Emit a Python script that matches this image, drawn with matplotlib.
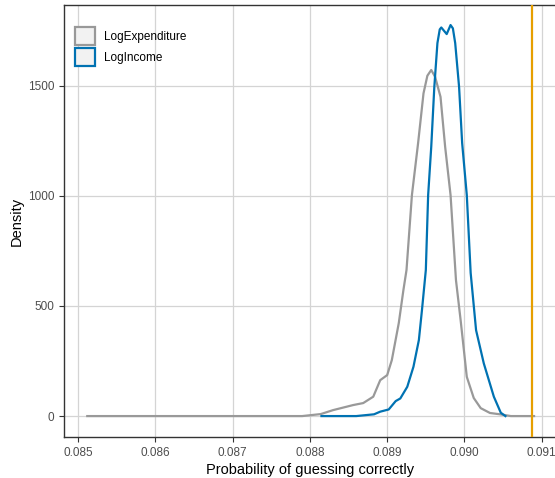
import matplotlib
matplotlib.use("Agg")
import matplotlib.pyplot as plt
from matplotlib.patches import Patch

plt.rcParams['font.family'] = ['Liberation Sans', 'DejaVu Sans']

# LogExpenditure density (grey)
exp_x = [0.08512, 0.0870, 0.0879, 0.08814, 0.08830, 0.08856, 0.08869, 0.08882, 0.08891,
         0.08900, 0.08906, 0.08915, 0.08921, 0.08925, 0.08932, 0.08940, 0.08947, 0.08952,
         0.08957, 0.08962, 0.08969, 0.08975, 0.08982, 0.08989, 0.08995, 0.09003, 0.09012,
         0.09021, 0.09033, 0.09046, 0.0906, 0.0909]
exp_d = [0, 0, 0, 9, 27, 50, 59, 88, 163,
         186, 254, 422, 572, 663, 1003, 1239, 1465, 1545,
         1571, 1540, 1449, 1222, 1003, 617, 436, 178, 82,
         36, 14, 8, 0, 0]

# LogIncome density (blue)
inc_x = [0.08815, 0.08860, 0.08883, 0.08891, 0.08902, 0.08911, 0.08917, 0.08926, 0.08934,
         0.08941, 0.08945, 0.08950, 0.08953, 0.08957, 0.08961, 0.08965, 0.08968, 0.08970,
         0.08977, 0.08982, 0.08985, 0.08988, 0.08993, 0.08997, 0.09003, 0.09008, 0.09015,
         0.09025, 0.09038, 0.09047, 0.09053]
inc_d = [0, 0, 8, 20, 30, 68, 80, 133, 224,
         345, 481, 663, 1003, 1222, 1495, 1693, 1755, 1764,
         1734, 1775, 1760, 1693, 1495, 1239, 1003, 650, 390,
         239, 88, 15, 0]

vline_x = 0.09088
x_ticks = [0.085, 0.086, 0.087, 0.088, 0.089, 0.090, 0.091]
x_labels = ["0.085", "0.086", "0.087", "0.088", "0.089", "0.090", "0.091"]
y_ticks = [0, 500, 1000, 1500]

grey = "#999999"
blue = "#0072B2"
orange = "#E69F00"

fig = plt.figure(figsize=(5.55, 4.78), dpi=100)
ax = fig.add_axes([64/555, 41/478, (557-64)/555, (437-5)/478])

ax.plot(exp_x, exp_d, color=grey, lw=1.6, zorder=3)
ax.plot(inc_x, inc_d, color=blue, lw=1.6, zorder=4)
ax.axvline(vline_x, color=orange, lw=1.6, zorder=5)

ax.set_xlim(0.084819, 0.091197)
ax.set_ylim(-95, 1866)
ax.set_xticks(x_ticks)
ax.set_xticklabels(x_labels)
ax.set_yticks(y_ticks)

ax.grid(True, color="#D4D4D4", lw=0.9)
ax.set_axisbelow(True)
for s in ["left", "bottom", "top"]:
    ax.spines[s].set_color("#333333")
    ax.spines[s].set_linewidth(1.0)
ax.spines["right"].set_visible(False)
ax.tick_params(axis="both", colors="#333333", labelcolor="#4D4D4D", labelsize=8.5,
               length=3.5, width=0.8)

ax.set_xlabel("Probability of guessing correctly", fontsize=10.5, color="black", labelpad=3)
ax.set_ylabel("Density", fontsize=10.5, color="black", labelpad=3)

handles = [Patch(facecolor="#F2F2F2", edgecolor=grey, linewidth=1.6, label="LogExpenditure"),
           Patch(facecolor="#F2F2F2", edgecolor=blue, linewidth=1.6, label="LogIncome")]
leg = ax.legend(handles=handles, loc="upper left", frameon=False, fontsize=8.5,
                handlelength=1.7, handleheight=2.0, handletextpad=0.75,
                labelspacing=0.25, borderaxespad=0.0, bbox_to_anchor=(0.012, 0.96))

fig.savefig("out.png", dpi=100)
